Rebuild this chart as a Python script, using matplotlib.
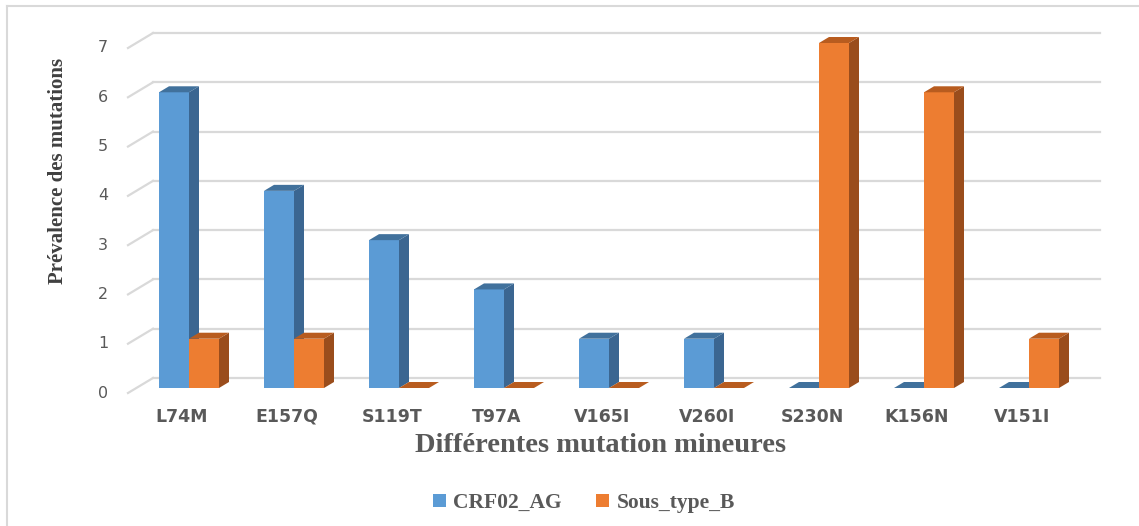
import matplotlib
matplotlib.use("Agg")
import matplotlib.pyplot as plt
from matplotlib.patches import Polygon, Rectangle, Patch
from matplotlib.lines import Line2D

# Mutation counts per subtype
categories = ["L74M", "E157Q", "S119T", "T97A", "V165I", "V260I", "S230N", "K156N", "V151I"]
crf02_ag = [6, 4, 3, 2, 1, 1, 0, 0, 0]
sous_type_b = [1, 1, 0, 0, 0, 0, 7, 6, 1]
series_names = ["CRF02_AG", "Sous_type_B"]
y_ticks = [0, 1, 2, 3, 4, 5, 6, 7]

# face colours: front, side, top
BLUE = ("#5B9BD5", "#3B6691", "#41719C")
ORANGE = ("#ED7D31", "#9A4D1C", "#B85C1F")
GRID = "#D9D9D9"
TXT = "#595959"

W, H = 1139, 526
DPI = 100
fig = plt.figure(figsize=(W / DPI, H / DPI), dpi=DPI)

# axes = front plane of the bars (pixel box)
left_px, right_px, top_px, bot_px = 136, 1083, 43, 388
ax = fig.add_axes([left_px / W, 1 - bot_px / H, (right_px - left_px) / W, (bot_px - top_px) / H])
ax.set_axis_off()
ax.set_ylim(0, 7)
xmin = -(189 - left_px) / 105.0
xmax = xmin + (right_px - left_px) / 105.0
ax.set_xlim(xmin, xmax)

ppx = 105.0                      # pixels per category unit
ppy = (bot_px - top_px) / 7.0    # pixels per value unit


def dxy(px, py):
    """pixel offset (right, up) -> data offset"""
    return px / ppx, py / ppy


# back wall gridlines with the diagonal towards the front edge
bx, by = dxy(17, 10)
fx, fy = dxy(-8, -5)
for v in y_ticks:
    ax.add_line(Line2D([xmin + bx, xmax + bx], [v + by, v + by], color=GRID, lw=1.6,
                       clip_on=False, zorder=1))
    ax.add_line(Line2D([xmin + fx, xmin + bx], [v + fy, v + by], color=GRID, lw=1.6,
                       clip_on=False, zorder=1))
    ax.text(xmin + fx - 25 / ppx, v + fy, str(v), ha="center", va="center",
            fontsize=11.5, color=TXT, family="DejaVu Sans", clip_on=False)

# 3-D looking columns
bw = 30 / ppx
ddx, ddy = dxy(10, 6)


def column(x0, v, cols, z):
    front, side, top = cols
    x1 = x0 + bw
    if v > 0:
        ax.add_patch(Rectangle((x0, 0), bw, v, facecolor=front, edgecolor="none",
                               zorder=z, clip_on=False))
        ax.add_patch(Polygon([(x1, 0), (x1 + ddx, ddy), (x1 + ddx, v + ddy), (x1, v)],
                             closed=True, facecolor=side, edgecolor="none", zorder=z,
                             clip_on=False))
    ax.add_patch(Polygon([(x0, v), (x1, v), (x1 + ddx, v + ddy), (x0 + ddx, v + ddy)],
                         closed=True, facecolor=top, edgecolor="none", zorder=z,
                         clip_on=False))


for i, (a, b) in enumerate(zip(crf02_ag, sous_type_b)):
    column(i - bw, a, BLUE, 3 + 2 * i)
    column(i, b, ORANGE, 4 + 2 * i)
    ax.text(i - 7 / ppx, -29 / ppy, categories[i], ha="center", va="center",
            fontsize=12.5, fontweight="bold", color=TXT, family="DejaVu Sans",
            clip_on=False)

# axis titles
fig.text(58 / W, 1 - 171 / H, "Prévalence des mutations", rotation=90, ha="center",
         va="center", fontsize=15, fontweight="bold", color="#404040",
         family="Liberation Serif")
fig.text(601 / W, 1 - 445 / H, "Différentes mutation mineures", ha="center", va="center",
         fontsize=20.5, fontweight="bold", color=TXT, family="Liberation Serif")

# legend
handles = [Patch(facecolor=BLUE[0]), Patch(facecolor=ORANGE[0])]
fig.legend(handles, series_names, loc="center", bbox_to_anchor=(584 / W, 1 - 503 / H),
           ncol=2, frameon=False, handlelength=0.6, handleheight=0.6, handletextpad=0.35,
           columnspacing=1.6, prop={"family": "Liberation Serif", "weight": "bold",
                                     "size": 15.5}, labelcolor=TXT)

# outer frame (left and top edges)
fig.add_artist(Line2D([7 / W, 7 / W], [0, 1 - 6 / H], transform=fig.transFigure,
                      color="#D9D9D9", lw=1.5))
fig.add_artist(Line2D([7 / W, 1], [1 - 6 / H, 1 - 6 / H], transform=fig.transFigure,
                      color="#D9D9D9", lw=1.5))

fig.savefig("out.png", dpi=DPI, facecolor="white")
